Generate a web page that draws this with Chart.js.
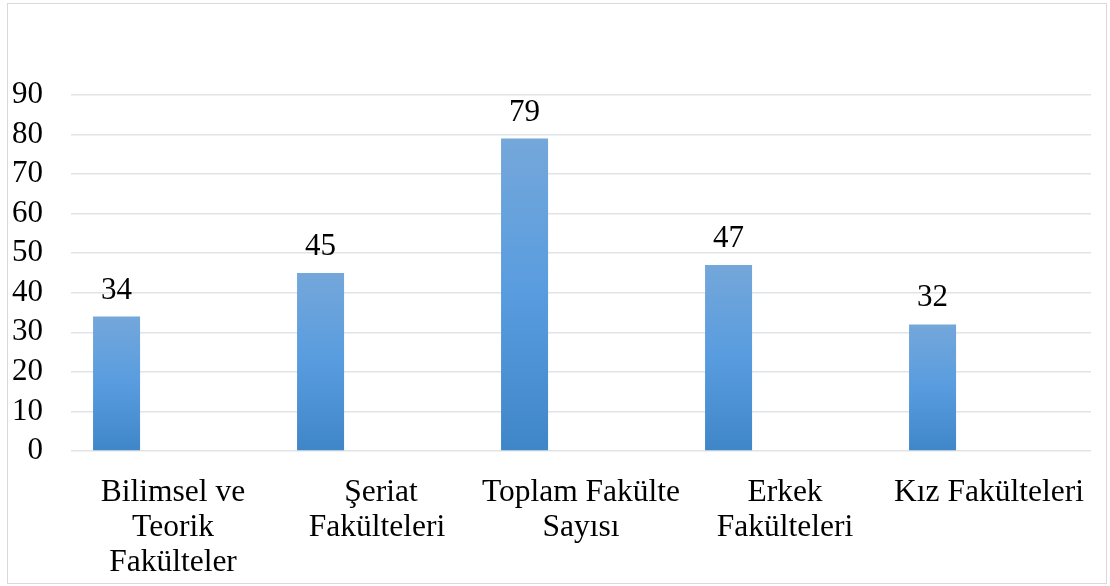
<!DOCTYPE html>
<html>
<head>
<meta charset="utf-8">
<script src="https://cdn.jsdelivr.net/npm/chart.js@4/dist/chart.umd.min.js"></script>
<style>
  html, body { margin: 0; padding: 0; background: #fff; }
  #wrap { position: absolute; left: 0; top: 0; width: 1110px; height: 586px; }
  #frame { position: absolute; left: 7px; top: 3px; width: 1098px; height: 579px; border: 1px solid #d9d9d9; pointer-events: none; }
</style>
</head>
<body>
<div id="wrap">
  <canvas id="myChart" width="1110" height="586"></canvas>
  <div id="frame"></div>
</div>
<script>
var categories = [
  ['Bilimsel ve', 'Teorik', 'Fakülteler'],
  [' Şeriat', 'Fakülteleri'],
  ['Toplam Fakülte', 'Sayısı'],
  ['Erkek', 'Fakülteleri'],
  ['Kız Fakülteleri']
];
var values = [34, 45, 79, 47, 32];
var yTicks = [0, 10, 20, 30, 40, 50, 60, 70, 80, 90];

var serif = "'Liberation Serif', 'Times New Roman', serif";

function barFill(ctx) {
  var chart = ctx.chart;
  if (!chart.chartArea || ctx.raw == null) return '#5b9bd5';
  var y = chart.scales.y;
  var top = y.getPixelForValue(ctx.raw);
  var bottom = y.getPixelForValue(0);
  var g = chart.ctx.createLinearGradient(0, top, 0, bottom);
  g.addColorStop(0, '#74a7da');
  g.addColorStop(0.5, '#589cdf');
  g.addColorStop(1, '#3f86c8');
  return g;
}

// value labels above bars
var valueLabels = {
  id: 'valueLabels',
  afterDatasetsDraw: function(chart) {
    var c = chart.ctx;
    var meta = chart.getDatasetMeta(0);
    c.save();
    c.font = '31px ' + serif;
    c.fillStyle = '#000';
    c.textAlign = 'center';
    c.textBaseline = 'alphabetic';
    meta.data.forEach(function(bar, i) {
      c.fillText(String(values[i]), bar.x, bar.y - 18);
    });
    c.restore();
  }
};

var ctx = document.getElementById('myChart').getContext('2d');
var chart = new Chart(ctx, {
  type: 'bar',
  data: {
    labels: categories,
    datasets: [
      { data: values, backgroundColor: barFill },
      { data: [] },
      { data: [] }
    ]
  },
  options: {
    responsive: false,
    animation: false,
    categoryPercentage: 0.83,
    barPercentage: 0.833,
    layout: { padding: { top: 95, right: 19, left: 0, bottom: 0 } },
    plugins: {
      legend: { display: false },
      tooltip: { enabled: false }
    },
    scales: {
      x: {
        grid: { display: false },
        border: { display: false },
        ticks: {
          color: '#000',
          font: { family: serif, size: 31.5, lineHeight: 1.12 },
          padding: 16,
          maxRotation: 0,
          autoSkip: false
        },
        afterFit: function(s) { s.height = 135; }
      },
      y: {
        min: 0,
        max: 90,
        grid: { color: '#e0e3e8', lineWidth: 1.5, drawTicks: false },
        border: { display: false },
        ticks: {
          stepSize: 10,
          autoSkip: false,
          color: '#000',
          font: { family: serif, size: 31 },
          padding: 28,
          callback: function(v) { return yTicks.indexOf(v) >= 0 ? String(v) : ''; }
        },
        afterFit: function(s) { s.width = 71; }
      }
    }
  },
  plugins: [valueLabels]
});
</script>
</body>
</html>
